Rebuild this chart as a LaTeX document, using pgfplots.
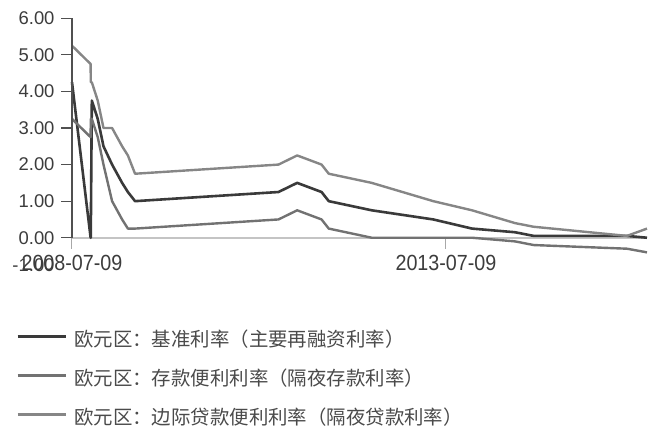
\documentclass[border=0pt]{standalone}
\usepackage{fontspec}
\setmainfont{Liberation Sans}
\newfontfamily\cjk{Noto Sans CJK SC}
\usepackage{graphicx}
\usepackage{pgfplots}
\pgfplotsset{compat=1.18}
\usepackage{pgfplotstable}
\definecolor{cmro}{HTML}{3A3A3A}
\definecolor{cdep}{HTML}{727272}
\definecolor{cmlf}{HTML}{868686}
\definecolor{ctxt}{HTML}{3C3C3C}
\definecolor{clg}{HTML}{4A4A4A}
\definecolor{cyax}{HTML}{505050}
\definecolor{cxax}{HTML}{C4C4C4}
\definecolor{cxtk}{HTML}{A8A8A8}
% date (decimal year), main refinancing, deposit facility, marginal lending facility
\pgfplotstableread{
date mro dep mlf
2008.519 4.25 3.25 5.25
2008.768 0.00 2.75 4.75
2008.770 0.00 3.25 4.25
2008.784 3.75 3.25 4.25
2008.863 3.25 2.75 3.75
2008.940 2.50 2.00 3.00
2009.055 2.00 1.00 3.00
2009.189 1.50 0.50 2.50
2009.266 1.25 0.25 2.25
2009.362 1.00 0.25 1.75
2011.279 1.25 0.50 2.00
2011.529 1.50 0.75 2.25
2011.855 1.25 0.50 2.00
2011.951 1.00 0.25 1.75
2012.525 0.75 0.00 1.50
2013.348 0.50 0.00 1.00
2013.866 0.25 0.00 0.75
2014.441 0.15 -0.10 0.40
2014.690 0.05 -0.20 0.30
2015.937 0.05 -0.30 0.05
2016.205 0.00 -0.40 0.25
}\ratesdata
\begin{document}
\begin{tikzpicture}
\path[use as bounding box] (-72bp,-152.7bp) rectangle (591bp,274.3bp);
\begin{axis}[
  at={(0,0)}, anchor=south west,
  scale only axis, width=575bp, height=256bp,
  xmin=2008.519, xmax=2016.205, ymin=-1, ymax=6,
  axis x line*=middle, axis y line*=left,
  hide obscured x ticks=false,
  x axis line style={draw=cxax, line width=2bp},
  y axis line style={draw=none},
  tick align=outside, major tick length=11bp,
  minor tick num=0,
  xtick={2008.519,2013.518},
  xticklabels={\scalebox{0.9}[1]{2008-07-09},\scalebox{0.9}[1]{2013-07-09}},
  x tick style={draw=cxtk, line width=1bp},
  xticklabel style={font=\fontsize{22}{24}\selectfont, text=ctxt, yshift=-3bp},
  ytick={0,1,...,6},
  yticklabels={0.00,1.00,2.00,3.00,4.00,5.00,6.00},
  y tick style={draw=cyax, line width=1.2bp},
  yticklabel style={font=\fontsize{18.5}{20}\selectfont, text=ctxt, xshift=-3bp},
  extra y ticks={-1}, extra y tick labels={-1.00},
  extra y tick style={y tick style={draw=none}, yticklabel style={yshift=9bp}},
  clip=false,
  legend cell align=left,
  legend image code/.code={\draw[#1, line width=3.2bp] (0bp,4bp) -- (48bp,4bp);},
  legend style={at={(axis description cs:-0.0974,-0.2227)}, anchor=north west,
    draw=none, fill=none, inner sep=0pt, outer sep=0pt,
    row sep=21bp, column sep=7bp,
    font=\cjk\fontsize{19.5}{21}\selectfont, text=clg,
    nodes={inner sep=0pt, text height=15bp, text depth=3bp}},
]
\addplot[cmro, line width=2.6bp, line join=round] table[x=date, y=mro] {\ratesdata};
\addlegendentry{欧元区：基准利率（主要再融资利率）}
\addplot[cdep, line width=2.4bp, line join=round] table[x=date, y=dep] {\ratesdata};
\addlegendentry{欧元区：存款便利利率（隔夜存款利率）}
\addplot[cmlf, line width=2.4bp, line join=round] table[x=date, y=mlf] {\ratesdata};
\addlegendentry{欧元区：边际贷款便利利率（隔夜贷款利率）}
\draw[cyax, line width=1.2bp] (axis cs:2008.519,0) -- (axis cs:2008.519,6);
\end{axis}
\end{tikzpicture}
\end{document}
